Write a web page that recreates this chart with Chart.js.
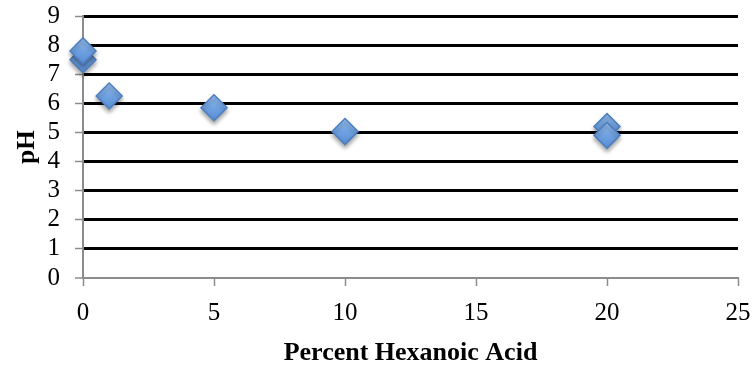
<!DOCTYPE html>
<html>
<head>
<meta charset="utf-8">
<script src="https://cdn.jsdelivr.net/npm/chart.js@4/dist/chart.umd.min.js"></script>
<style>
  html, body { margin: 0; padding: 0; background: #fff; }
  #wrap { width: 754px; height: 369px; position: relative; }
</style>
</head>
<body>
<div id="wrap"><canvas id="c" width="754" height="369"></canvas></div>
<script>
// Percent hexanoic acid in the mixture and the measured pH
const pctAcid = [0, 0, 1, 5, 10, 20, 20];
const phValues = [7.5, 7.8, 6.25, 5.85, 5.03, 5.2, 4.9];

const xTicks = [0, 5, 10, 15, 20, 25];
const yTicks = [0, 1, 2, 3, 4, 5, 6, 7, 8, 9];

const xTitle = 'Percent Hexanoic Acid';
const yTitle = 'pH';

const points = pctAcid.map((x, i) => ({ x: x, y: phValues[i] }));

// Soft drop shadow under the diamond markers
const markerShadow = {
  id: 'markerShadow',
  beforeDatasetsDraw(chart) {
    const ctx = chart.ctx;
    ctx.save();
    ctx.shadowColor = 'rgba(0,0,0,0.35)';
    ctx.shadowBlur = 4;
    ctx.shadowOffsetX = 0;
    ctx.shadowOffsetY = 3;
  },
  afterDatasetsDraw(chart) {
    chart.ctx.restore();
  }
};

function diamondFill(context) {
  const chart = context.chart;
  const el = context.element;
  if (!el || el.y === undefined) return '#6a9de0';
  const g = chart.ctx.createLinearGradient(0, el.y - 13, 0, el.y + 13);
  g.addColorStop(0, '#9cc2f0');
  g.addColorStop(0.5, '#6fa2e2');
  g.addColorStop(1, '#5a8fd6');
  return g;
}

const serif = '"Liberation Serif", "Times New Roman", serif';

new Chart(document.getElementById('c'), {
  type: 'scatter',
  data: {
    datasets: [{
      data: points,
      clip: false,
      pointStyle: 'rectRot',
      pointRadius: 13,
      pointHoverRadius: 13,
      pointBorderWidth: 1.5,
      borderColor: '#4d7fc0',
      pointBorderColor: '#4d7fc0',
      backgroundColor: diamondFill,
      pointBackgroundColor: diamondFill
    }]
  },
  options: {
    responsive: false,
    animation: false,
    events: [],
    layout: { padding: { top: 16, right: 16, left: 0, bottom: 0 } },
    plugins: {
      legend: { display: false },
      tooltip: { enabled: false }
    },
    scales: {
      x: {
        type: 'linear',
        min: 0,
        max: 25,
        afterBuildTicks(scale) { scale.ticks = xTicks.map(v => ({ value: v })); },
        afterFit(scale) {
          scale.height = 91;
          scale.paddingLeft = 0;
          scale.paddingRight = 0;
        },
        border: { display: true, color: '#8c8c8c', width: 2 },
        grid: {
          drawOnChartArea: false,
          drawTicks: true,
          tickLength: 8,
          tickColor: '#8c8c8c',
          tickWidth: 1.5
        },
        ticks: {
          color: '#000',
          padding: 12,
          maxRotation: 0,
          autoSkip: false,
          font: { family: serif, size: 25 }
        },
        title: {
          display: true,
          text: xTitle,
          color: '#000',
          padding: { top: 10, bottom: 0 },
          font: { family: serif, size: 26, weight: 'bold' }
        }
      },
      y: {
        type: 'linear',
        min: 0,
        max: 9,
        afterBuildTicks(scale) { scale.ticks = yTicks.map(v => ({ value: v })); },
        afterFit(scale) {
          scale.width = 83;
          scale.paddingTop = 0;
          scale.paddingBottom = 0;
        },
        border: { display: true, color: '#8c8c8c', width: 2 },
        grid: {
          drawOnChartArea: true,
          drawTicks: true,
          tickLength: 8,
          tickColor: '#8c8c8c',
          tickWidth: 1.5,
          color: ctx => (ctx.tick && ctx.tick.value === 0 ? '#8c8c8c' : '#000'),
          lineWidth: ctx => (ctx.tick && ctx.tick.value === 0 ? 2 : 3)
        },
        ticks: {
          color: '#000',
          padding: 15,
          autoSkip: false,
          font: { family: serif, size: 25 }
        },
        title: {
          display: true,
          text: yTitle,
          color: '#000',
          padding: { top: 13, bottom: 0 },
          font: { family: serif, size: 25, weight: 'bold' }
        }
      }
    }
  },
  plugins: [markerShadow]
});
</script>
</body>
</html>
